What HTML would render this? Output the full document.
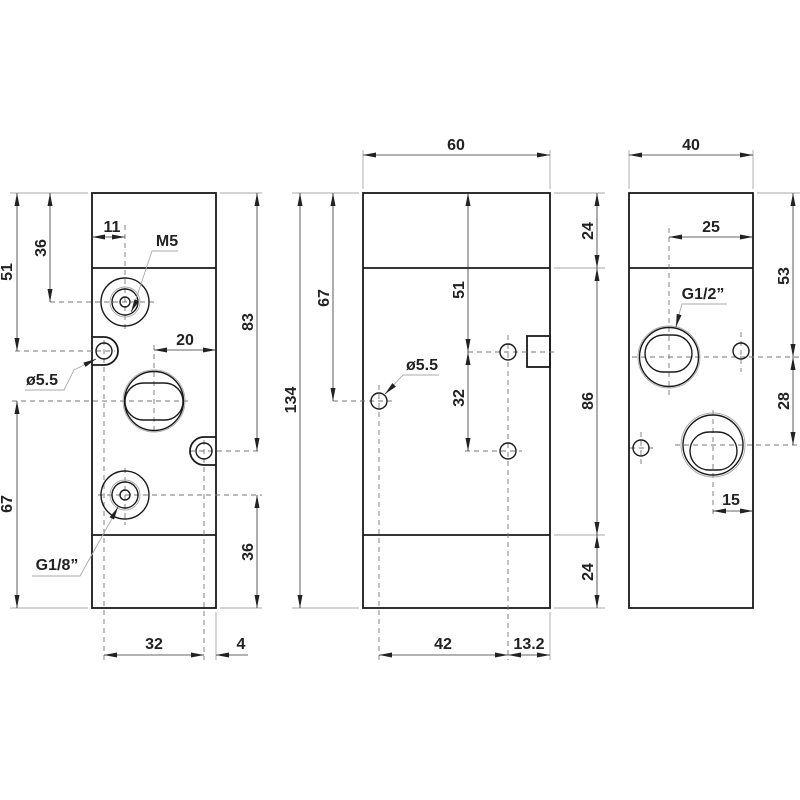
<!DOCTYPE html>
<html><head><meta charset="utf-8"><style>
html,body{margin:0;padding:0;background:#fff}
svg{display:block}
text{font-family:"Liberation Sans",Arial,sans-serif;font-weight:bold;font-size:16px;fill:#222}
.o{stroke:#1a1a1a;stroke-width:1.8;fill:none}
.t{stroke:#1a1a1a;stroke-width:1.4;fill:none}
.c{stroke:#777;stroke-width:0.9;stroke-dasharray:5,4;fill:none}
.d{stroke:#333;stroke-width:0.8;fill:none}
.e{stroke:#aaa;stroke-width:0.9;fill:none}
</style></head><body>
<svg width="800" height="800" viewBox="0 0 800 800" xmlns="http://www.w3.org/2000/svg">
<defs>
<marker id="a" viewBox="0 0 13 6" refX="13" refY="3" markerWidth="13" markerHeight="6" orient="auto-start-reverse" markerUnits="userSpaceOnUse"><path d="M0,0.5L13,3L0,5.5z" fill="#222"/></marker>
</defs>

<!-- ============ LEFT VIEW ============ -->
<rect class="o" x="92" y="193" width="124" height="415"/>
<line class="o" x1="92" y1="268" x2="216" y2="268"/>
<line class="o" x1="92" y1="535" x2="216" y2="535"/>
<line class="c" x1="125" y1="225" x2="125" y2="330"/>
<line class="c" x1="50" y1="302" x2="155" y2="302"/>
<line class="c" x1="104" y1="340" x2="104" y2="660"/>
<line class="c" x1="15" y1="351" x2="115" y2="351"/>
<line class="c" x1="154" y1="345" x2="154" y2="435"/>
<line class="c" x1="12" y1="401" x2="190" y2="401"/>
<line class="c" x1="204" y1="440" x2="204" y2="660"/>
<line class="c" x1="190" y1="451" x2="262" y2="451"/>
<line class="c" x1="125" y1="468" x2="125" y2="525"/>
<line class="c" x1="98" y1="495" x2="262" y2="495"/>
<circle class="t" cx="125" cy="302" r="24"/>
<circle class="t" cx="125" cy="302" r="13"/>
<circle class="e" cx="125" cy="302" r="15"/>
<circle class="t" cx="125" cy="302" r="5"/>
<circle class="t" cx="125" cy="495" r="24"/>
<circle class="t" cx="125" cy="495" r="13"/>
<circle class="e" cx="125" cy="495" r="15"/>
<circle class="t" cx="125" cy="495" r="5"/>
<path class="o" d="M92,337 H104 A14,14 0 0 1 104,365 H92"/>
<circle class="t" cx="104" cy="351" r="8"/>
<path class="o" d="M216,437 H204 A14,14 0 0 0 204,465 H216"/>
<circle class="t" cx="204" cy="451" r="8"/>
<circle class="e" cx="154" cy="401" r="31"/>
<circle class="t" cx="154" cy="401" r="29.5"/>
<rect class="t" x="125" y="383" width="58" height="37" rx="18.5"/>
<line class="e" x1="10" y1="193" x2="88" y2="193"/>
<line class="e" x1="10" y1="608" x2="88" y2="608"/>
<line class="e" x1="220" y1="193" x2="262" y2="193"/>
<line class="e" x1="220" y1="608" x2="262" y2="608"/>
<line class="d" x1="17" y1="193" x2="17" y2="351" marker-start="url(#a)" marker-end="url(#a)"/>
<text transform="translate(12,272) rotate(-90)" text-anchor="middle">51</text>
<line class="d" x1="50" y1="193" x2="50" y2="302" marker-start="url(#a)" marker-end="url(#a)"/>
<text transform="translate(46,248) rotate(-90)" text-anchor="middle">36</text>
<line class="d" x1="17" y1="401" x2="17" y2="608" marker-start="url(#a)" marker-end="url(#a)"/>
<text transform="translate(12,504) rotate(-90)" text-anchor="middle">67</text>
<line class="d" x1="257" y1="193" x2="257" y2="451" marker-start="url(#a)" marker-end="url(#a)"/>
<text transform="translate(253,322) rotate(-90)" text-anchor="middle">83</text>
<line class="d" x1="257" y1="495" x2="257" y2="608" marker-start="url(#a)" marker-end="url(#a)"/>
<text transform="translate(253,552) rotate(-90)" text-anchor="middle">36</text>
<line class="d" x1="154" y1="350" x2="216" y2="350" marker-start="url(#a)" marker-end="url(#a)"/>
<text x="185" y="345" text-anchor="middle">20</text>
<line class="d" x1="92" y1="237" x2="125" y2="237" marker-start="url(#a)" marker-end="url(#a)"/>
<text x="112" y="232" text-anchor="middle">11</text>
<line class="d" x1="104" y1="655" x2="204" y2="655" marker-start="url(#a)" marker-end="url(#a)"/>
<text x="154" y="649" text-anchor="middle">32</text>
<line class="e" x1="216" y1="612" x2="216" y2="660"/>
<line class="d" x1="248" y1="655" x2="216" y2="655" marker-end="url(#a)"/>
<text x="241" y="649" text-anchor="middle">4</text>
<polyline class="e" points="178,251 152,251 132,311" />
<line class="d" x1="137" y1="300" x2="131" y2="312" marker-end="url(#a)"/>
<text x="167" y="246" text-anchor="middle">M5</text>
<polyline class="e" points="25,390 64,390 74,370 94,360"/>
<line class="d" x1="86" y1="364" x2="96" y2="359" marker-end="url(#a)"/>
<text x="42" y="385" text-anchor="middle">ø5.5</text>
<polyline class="e" points="32,576 80,576 114,515"/>
<line class="d" x1="112" y1="518" x2="118" y2="507" marker-end="url(#a)"/>
<text x="57" y="570" text-anchor="middle">G1/8”</text>

<!-- ============ MIDDLE VIEW ============ -->
<rect class="o" x="363" y="193" width="187" height="415"/>
<line class="o" x1="363" y1="268" x2="550" y2="268"/>
<line class="o" x1="363" y1="535" x2="550" y2="535"/>
<rect class="o" x="527" y="336" width="23" height="31"/>
<line class="c" x1="379" y1="385" x2="379" y2="660"/>
<line class="c" x1="333" y1="401" x2="392" y2="401"/>
<line class="c" x1="508" y1="335" x2="508" y2="660"/>
<line class="c" x1="468" y1="352" x2="555" y2="352"/>
<line class="c" x1="465" y1="451" x2="522" y2="451"/>
<circle class="t" cx="379" cy="401" r="8"/>
<circle class="t" cx="508" cy="352" r="8"/>
<circle class="t" cx="508" cy="451" r="8"/>
<line class="e" x1="363" y1="150" x2="363" y2="189"/>
<line class="e" x1="550" y1="150" x2="550" y2="189"/>
<line class="d" x1="363" y1="155" x2="550" y2="155" marker-start="url(#a)" marker-end="url(#a)"/>
<text x="456" y="150" text-anchor="middle">60</text>
<line class="e" x1="292" y1="193" x2="359" y2="193"/>
<line class="e" x1="292" y1="608" x2="359" y2="608"/>
<line class="d" x1="300" y1="193" x2="300" y2="608" marker-start="url(#a)" marker-end="url(#a)"/>
<text transform="translate(296,400) rotate(-90)" text-anchor="middle">134</text>
<line class="d" x1="333" y1="193" x2="333" y2="401" marker-start="url(#a)" marker-end="url(#a)"/>
<text transform="translate(329,298) rotate(-90)" text-anchor="middle">67</text>
<line class="d" x1="468" y1="193" x2="468" y2="352" marker-start="url(#a)" marker-end="url(#a)"/>
<text transform="translate(464,290) rotate(-90)" text-anchor="middle">51</text>
<line class="d" x1="468" y1="352" x2="468" y2="451" marker-start="url(#a)" marker-end="url(#a)"/>
<text transform="translate(464,398) rotate(-90)" text-anchor="middle">32</text>
<line class="e" x1="554" y1="193" x2="605" y2="193"/>
<line class="e" x1="554" y1="268" x2="605" y2="268"/>
<line class="e" x1="554" y1="535" x2="605" y2="535"/>
<line class="e" x1="554" y1="608" x2="605" y2="608"/>
<line class="d" x1="597" y1="193" x2="597" y2="268" marker-start="url(#a)" marker-end="url(#a)"/>
<text transform="translate(593,231) rotate(-90)" text-anchor="middle">24</text>
<line class="d" x1="597" y1="268" x2="597" y2="535" marker-start="url(#a)" marker-end="url(#a)"/>
<text transform="translate(593,401) rotate(-90)" text-anchor="middle">86</text>
<line class="d" x1="597" y1="535" x2="597" y2="608" marker-start="url(#a)" marker-end="url(#a)"/>
<text transform="translate(593,572) rotate(-90)" text-anchor="middle">24</text>
<line class="d" x1="379" y1="655" x2="508" y2="655" marker-start="url(#a)" marker-end="url(#a)"/>
<text x="443" y="649" text-anchor="middle">42</text>
<line class="e" x1="550" y1="612" x2="550" y2="660"/>
<line class="d" x1="508" y1="655" x2="550" y2="655" marker-start="url(#a)" marker-end="url(#a)"/>
<text x="529" y="649" text-anchor="middle">13.2</text>
<polyline class="e" points="439,375 403,375 387,392"/>
<line class="d" x1="394" y1="385" x2="385" y2="394" marker-end="url(#a)"/>
<text x="422" y="370" text-anchor="middle">ø5.5</text>

<!-- ============ RIGHT VIEW ============ -->
<rect class="o" x="629" y="193" width="124" height="415"/>
<line class="o" x1="629" y1="268" x2="753" y2="268"/>
<line class="c" x1="669" y1="228" x2="669" y2="398"/>
<line class="c" x1="632" y1="357" x2="800" y2="357"/>
<line class="c" x1="741" y1="332" x2="741" y2="372"/>
<line class="c" x1="713" y1="410" x2="713" y2="516"/>
<line class="c" x1="675" y1="445" x2="800" y2="445"/>
<line class="c" x1="641" y1="432" x2="641" y2="465"/>
<line class="c" x1="630" y1="448" x2="655" y2="448"/>
<circle class="e" cx="669" cy="357" r="31"/>
<circle class="t" cx="669" cy="357" r="29.5"/>
<rect class="t" x="645" y="335" width="47" height="37" rx="18.5"/>
<circle class="e" cx="713" cy="445" r="32"/>
<circle class="t" cx="713" cy="445" r="30"/>
<rect class="t" x="690" y="432" width="47" height="38" rx="19"/>
<circle class="t" cx="741" cy="351" r="8"/>
<circle class="t" cx="641" cy="448" r="8"/>
<line class="e" x1="629" y1="150" x2="629" y2="189"/>
<line class="e" x1="753" y1="150" x2="753" y2="189"/>
<line class="d" x1="629" y1="155" x2="753" y2="155" marker-start="url(#a)" marker-end="url(#a)"/>
<text x="691" y="150" text-anchor="middle">40</text>
<line class="d" x1="669" y1="237" x2="753" y2="237" marker-start="url(#a)" marker-end="url(#a)"/>
<text x="711" y="232" text-anchor="middle">25</text>
<line class="e" x1="757" y1="193" x2="800" y2="193"/>
<line class="d" x1="793" y1="193" x2="793" y2="357" marker-start="url(#a)" marker-end="url(#a)"/>
<text transform="translate(789,276) rotate(-90)" text-anchor="middle">53</text>
<line class="d" x1="793" y1="357" x2="793" y2="445" marker-start="url(#a)" marker-end="url(#a)"/>
<text transform="translate(789,401) rotate(-90)" text-anchor="middle">28</text>
<line class="d" x1="713" y1="511" x2="753" y2="511" marker-start="url(#a)" marker-end="url(#a)"/>
<text x="731" y="505" text-anchor="middle">15</text>
<polyline class="e" points="727,304 682,304 676,325"/>
<line class="d" x1="679" y1="315" x2="676" y2="327" marker-end="url(#a)"/>
<text x="703" y="299" text-anchor="middle">G1/2”</text>
</svg>
</body></html>
